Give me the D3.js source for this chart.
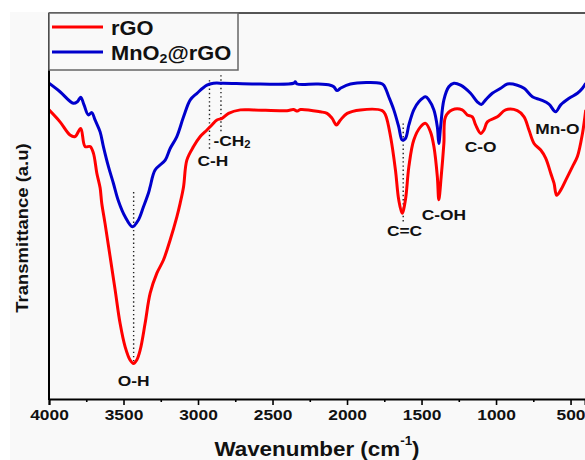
<!DOCTYPE html>
<html>
<head>
<meta charset="utf-8">
<script src="https://cdn.jsdelivr.net/npm/d3@7"></script>
<style>
  html, body { margin: 0; padding: 0; background: #ffffff; }
  svg { display: block; font-family: "Liberation Sans", Arial, sans-serif; font-weight: bold; }
</style>
</head>
<body>
<svg id="chart" width="585" height="460"></svg>
<script>
// FTIR spectra: [wavenumber (cm-1), transmittance (a.u.)]
const rGO = [
  [4000,74.9],[3926,71.8],[3859,68.4],[3825,68.0],[3787,70.1],[3758,65.4],[3724,65.4],
  [3702,63.7],[3679,58.5],[3657,54.7],[3646,50.7],[3624,45.5],[3590,36.9],[3556,28.2],
  [3523,19.6],[3489,13.5],[3456,10.1],[3433,9.2],[3411,10.1],[3388,12.7],[3355,19.6],
  [3321,27.4],[3276,32.6],[3232,36.0],[3187,41.2],[3142,47.2],[3120,50.7],[3097,55.0],
  [3075,61.9],[3030,65.4],[2985,68.0],[2940,69.7],[2907,71.0],[2873,72.3],[2839,72.7],
  [2795,74.0],[2716,74.9],[2627,74.9],[2403,74.7],[2360,75.0],[2333,74.6],[2313,75.0],
  [2179,74.4],[2134,74.0],[2100,72.7],[2071,71.0],[2044,72.3],[1999,74.0],[1910,74.9],
  [1764,74.7],[1742,73.6],[1708,68.0],[1675,59.3],[1653,51.6],[1630,48.1],[1608,51.6],
  [1585,60.2],[1552,67.1],[1507,70.5],[1473,71.4],[1440,69.2],[1417,65.4],[1394,57.6],
  [1384,51.6],[1368,57.6],[1350,66.2],[1339,73.1],[1294,74.9],[1227,74.9],[1193,73.6],
  [1159,73.1],[1137,71.0],[1103,68.8],[1081,69.7],[1058,71.8],[991,73.1],[936,74.9],
  [857,74.7],[812,73.1],[779,69.7],[745,66.2],[700,64.5],[667,62.4],[633,58.5],
  [611,55.9],[593,52.8],[566,54.1],[532,56.7],[487,60.2],[454,62.8],[420,68.8],[398,74.9]
];

const mnO2rGO = [
  [4000,81.8],[3926,79.6],[3837,76.6],[3810,77.0],[3787,78.2],[3765,76.2],[3736,73.6],
  [3713,74.2],[3691,72.3],[3657,69.2],[3635,65.4],[3601,60.2],[3568,55.9],[3534,51.3],
  [3489,47.2],[3440,44.6],[3400,46.4],[3366,49.8],[3333,53.3],[3321,55.0],[3288,59.3],
  [3220,61.9],[3187,64.9],[3142,68.0],[3097,73.1],[3052,77.5],[3007,79.2],[2940,81.3],
  [2896,81.8],[2829,81.8],[2582,81.6],[2358,81.8],[2347,82.2],[2335,81.6],[2201,81.6],
  [2112,81.3],[2089,80.9],[2067,79.9],[2044,80.5],[1977,81.6],[1776,81.8],[1753,81.3],
  [1720,78.3],[1686,74.9],[1653,70.5],[1630,67.1],[1608,67.5],[1585,71.0],[1552,74.9],
  [1518,77.0],[1473,78.3],[1451,77.5],[1417,74.9],[1394,70.5],[1384,66.2],[1372,70.5],
  [1350,77.5],[1317,80.9],[1283,81.8],[1238,81.3],[1171,79.2],[1126,77.0],[1099,76.3],
  [1070,77.5],[1025,79.2],[969,80.5],[924,81.6],[857,81.3],[812,80.5],[756,78.3],
  [700,77.5],[645,76.4],[600,74.4],[566,76.2],[510,77.9],[454,79.2],[420,80.5],[398,81.8]
];

const seriesNames = ["rGO", "MnO2@rGO"];
const seriesColors = ["#ff0000", "#0000cc"];

const xTicks = [4000, 3500, 3000, 2500, 2000, 1500, 1000, 500];
const xMinorTicks = [3750, 3250, 2750, 2250, 1750, 1250, 750];

// Peak markers: dotted guide [wavenumber, from T, to T]
const peakLines = [
  [3432, 53.6, 9.8],
  [2923, 82.6, 64.8],
  [2846, 83.9, 69.2],
  [1623, 71.4, 45.9]
];
// Band labels: [text, wavenumber, T, anchor]
const bandLabels = [
  ["O-H", 3432, 4.9, "middle"],
  ["C-H", 2900, 61.7, "middle"],
  ["-CH|2", 2896, 67.1, "start"],
  ["C=C", 1614, 43.8, "middle"],
  ["C-OH", 1350, 47.9, "middle"],
  ["C-O", 1104, 65.5, "middle"],
  ["Mn-O", 588, 70.1, "middle"]
];

const W = 585, H = 460;
const plot = { left: 49, top: 13, right: 585, bottom: 399 };
const stretch = 1.12;

const svg = d3.select("#chart");

// figure backdrop
svg.append("rect").attr("x", 0).attr("y", 0).attr("width", W).attr("height", H).attr("fill", "#ffffff");
svg.append("rect").attr("x", 10).attr("y", 12).attr("width", W - 10).attr("height", H - 12).attr("fill", "#f9f9f9");

const x = d3.scaleLinear().domain([4000, 403]).range([plot.left, plot.right]);
const y = d3.scaleLinear().domain([0, 100]).range([plot.bottom, plot.top]);

svg.append("defs").append("clipPath").attr("id", "plotclip")
  .append("rect").attr("x", plot.left).attr("y", plot.top)
  .attr("width", plot.right - plot.left).attr("height", plot.bottom - plot.top);

// dotted peak guides
svg.append("g").selectAll("line").data(peakLines).join("line")
  .attr("x1", d => x(d[0])).attr("x2", d => x(d[0]))
  .attr("y1", d => y(d[1])).attr("y2", d => y(d[2]))
  .attr("stroke", "#222").attr("stroke-width", 1.4).attr("stroke-dasharray", "1.4,2.8");

// spectra
const line = d3.line().x(d => x(d[0])).y(d => y(d[1])).curve(d3.curveCatmullRom.alpha(0.5));
const curves = svg.append("g").attr("clip-path", "url(#plotclip)");
[rGO, mnO2rGO].forEach((s, i) => {
  curves.append("path").datum(s).attr("d", line)
    .attr("fill", "none").attr("stroke", seriesColors[i])
    .attr("stroke-width", 3).attr("stroke-linejoin", "round");
});

// helper: bold text with horizontal stretch, supports "base|sub|rest"
function label(g, str, px, py, size, anchor) {
  const t = g.append("text")
    .attr("transform", `translate(${px},${py}) scale(${stretch},1)`)
    .attr("text-anchor", anchor)
    .attr("dominant-baseline", "central")
    .attr("font-size", size).attr("fill", "#111");
  const parts = str.split("|");
  t.append("tspan").text(parts[0]);
  if (parts.length > 1) {
    t.append("tspan").attr("font-size", size * 0.65).attr("dy", size * 0.3).text(parts[1]);
  }
  if (parts.length > 2) {
    t.append("tspan").attr("dy", -size * 0.3).text(parts[2]);
  }
  return t;
}

// band labels
const lg = svg.append("g");
bandLabels.forEach(d => {
  label(lg, d[0], x(d[1]), y(d[2]), 15.5, d[3]);
});

// x axis (major + minor)
const axisG = svg.append("g").attr("transform", `translate(0,${plot.bottom})`);
axisG.call(d3.axisBottom(x).tickValues(xTicks).tickSize(6).tickPadding(4).tickFormat(d3.format("d")));
axisG.select(".domain").attr("stroke", "#000").attr("stroke-width", 2);
axisG.selectAll(".tick line").attr("stroke", "#000").attr("stroke-width", 1.6);
axisG.selectAll(".tick text")
  .attr("font-size", 15.5).attr("font-weight", "bold").attr("fill", "#111")
  .attr("font-family", "Liberation Sans, Arial, sans-serif")
  .attr("transform", `scale(${stretch},1)`);
const minorG = svg.append("g").attr("transform", `translate(0,${plot.bottom})`);
minorG.call(d3.axisBottom(x).tickValues(xMinorTicks).tickSize(3).tickFormat(""));
minorG.select(".domain").remove();
minorG.selectAll(".tick line").attr("stroke", "#000").attr("stroke-width", 1.6);

// left axis and top frame
svg.append("line").attr("x1", plot.left).attr("x2", plot.left)
  .attr("y1", plot.top).attr("y2", plot.bottom + 1)
  .attr("stroke", "#000").attr("stroke-width", 2);
svg.append("line").attr("x1", plot.left).attr("x2", plot.right)
  .attr("y1", plot.top).attr("y2", plot.top)
  .attr("stroke", "#555").attr("stroke-width", 2);

// axis titles
const xt = svg.append("text")
  .attr("transform", `translate(${(plot.left + 585) / 2},${448}) scale(${stretch},1)`)
  .attr("text-anchor", "middle").attr("dominant-baseline", "central")
  .attr("font-size", 20).attr("fill", "#111");
xt.append("tspan").text("Wavenumber (cm");
xt.append("tspan").attr("font-size", 12).attr("dy", -8).text("-1");
xt.append("tspan").attr("dy", 8).text(")");

svg.append("text")
  .attr("transform", `translate(22,${228}) rotate(-90) scale(${stretch},1)`)
  .attr("text-anchor", "middle").attr("dominant-baseline", "central")
  .attr("font-size", 16.5).attr("fill", "#111")
  .text("Transmittance (a.u)");

// legend
const leg = svg.append("g");
leg.append("rect").attr("x", plot.left).attr("y", plot.top)
  .attr("width", 189).attr("height", 57)
  .attr("fill", "#f9f9f9").attr("stroke", "#666").attr("stroke-width", 1.5);
const legRows = [27, 52];
seriesNames.forEach((name, i) => {
  leg.append("line").attr("x1", 52).attr("x2", 103)
    .attr("y1", legRows[i]).attr("y2", legRows[i])
    .attr("stroke", seriesColors[i]).attr("stroke-width", 3);
});
label(leg, "rGO", 111, legRows[0], 19.5, "start");
label(leg, "MnO|2|@rGO", 111, legRows[1], 19.5, "start");
</script>
</body>
</html>
